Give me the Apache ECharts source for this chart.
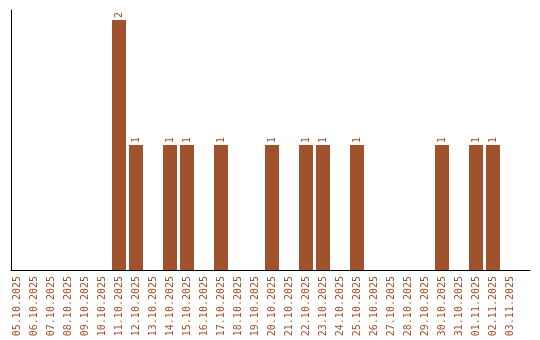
<!DOCTYPE html>
<html><head><meta charset="utf-8">
<script src="https://cdn.jsdelivr.net/npm/echarts@6/dist/echarts.min.js"></script>
<style>html,body{margin:0;padding:0;background:#fff}#c{width:540px;height:340px}</style>
</head><body><div id="c"></div>
<script>
const categories = ["05.10.2025","06.10.2025","07.10.2025","08.10.2025","09.10.2025","10.10.2025","11.10.2025","12.10.2025","13.10.2025","14.10.2025","15.10.2025","16.10.2025","17.10.2025","18.10.2025","19.10.2025","20.10.2025","21.10.2025","22.10.2025","23.10.2025","24.10.2025","25.10.2025","26.10.2025","27.10.2025","28.10.2025","29.10.2025","30.10.2025","31.10.2025","01.11.2025","02.11.2025","03.11.2025"];
const counts = [0,0,0,0,0,0,2,1,0,1,1,0,1,0,0,1,0,1,1,0,1,0,0,0,0,1,0,1,1,0];
const color = '#A0522D';
const font = 'DejaVu Sans Mono';
const chart = echarts.init(document.getElementById('c'), null, {renderer:'canvas'});
chart.setOption({
  animation:false,
  grid:[
    {left:11,right:10,top:10,bottom:70,containLabel:false},
    {left:8.5,right:21.5,top:10,bottom:70,containLabel:false}
  ],
  xAxis:[
    {gridIndex:0,type:'value',min:0,max:1,
      axisLine:{show:true,lineStyle:{color:'#000',width:1}},
      axisTick:{show:false},axisLabel:{show:false},splitLine:{show:false}},
    {gridIndex:1,type:'category',data:categories,
      axisLine:{show:false},axisTick:{show:false},
      axisLabel:{rotate:90,interval:0,color:color,fontFamily:font,fontSize:10,margin:6}}
  ],
  yAxis:[
    {gridIndex:0,type:'value',min:0,max:1,
      axisLine:{show:true,lineStyle:{color:'#000',width:1}},
      axisTick:{show:false},axisLabel:{show:false},splitLine:{show:false}},
    {gridIndex:1,type:'value',min:0,max:2.08,show:false}
  ],
  series:[{type:'bar',xAxisIndex:1,yAxisIndex:1,data:counts.map(v=>v===0?null:v),barWidth:14,
    itemStyle:{color:color},
    label:{show:true,position:'top',rotate:90,align:'left',verticalAlign:'middle',distance:2,
      color:color,fontFamily:font,fontSize:10}
  }]
});
</script></body></html>
